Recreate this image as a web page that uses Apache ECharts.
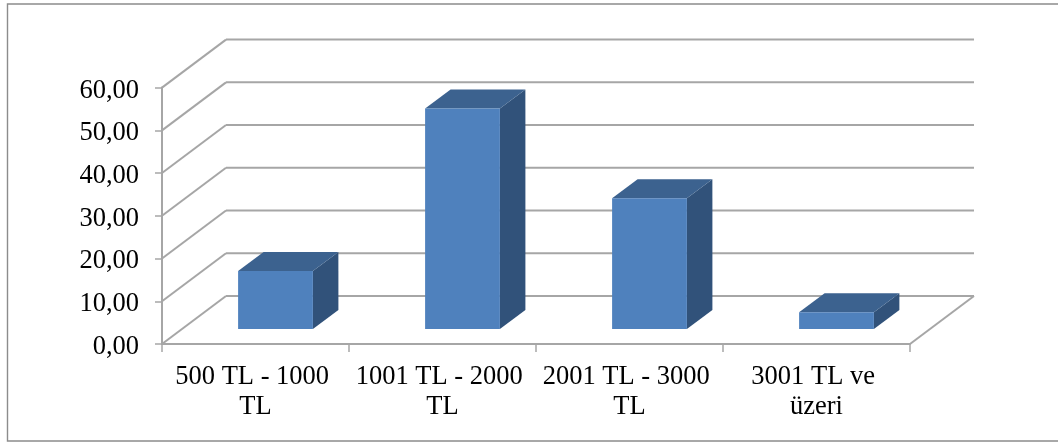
<!DOCTYPE html>
<html><head><meta charset="utf-8">
<style>html,body{margin:0;padding:0;background:#fff}#c{width:1058px;height:442px}</style>
<script src="https://cdn.jsdelivr.net/npm/echarts@6/dist/echarts.min.js"></script>
</head><body><div id="c"></div>
<script>
const categories = ['500 TL - 1000 TL', '1001 TL - 2000 TL', '2001 TL - 3000 TL', '3001 TL ve üzeri'];
const values = [13.6, 51.6, 30.6, 3.9];
const yTicks = [0, 10, 20, 30, 40, 50, 60];

const WALL_DX = 64, WALL_DY = -48;   // depth of the floor / side wall
const BAR_INSET_DX = 20, BAR_INSET_DY = -15; // bar front face offset from the front edge
const BAR_DX = 25.5, BAR_DY = -19;   // depth of a bar
const GRID = '#a6a6a6', FRONT = '#4f81bd', SIDE = '#31527a', TOP = '#3c628f';
const FONT = '"Liberation Serif","Times New Roman",serif';

const chart = echarts.init(document.getElementById('c'), null, {renderer: 'canvas'});
chart.setOption({
  animation: false,
  backgroundColor: '#fff',
  graphic: [{
    type: 'rect', silent: true, z: -10,
    shape: {x: 7.5, y: 4, width: 1100, height: 437},
    style: {fill: '#fff', stroke: '#8c8c8c', lineWidth: 1.4}
  }],
  grid: {left: 162, right: 148, top: 87.6, bottom: 98, containLabel: false},
  xAxis: {
    type: 'category', data: categories,
    axisLine: {show: true, onZero: false, lineStyle: {color: GRID, width: 2}},
    axisTick: {show: true, alignWithLabel: false, length: 8, lineStyle: {color: GRID, width: 1.5}},
    splitLine: {show: false},
    axisLabel: {
      interval: 0, margin: 18, color: '#000', fontFamily: FONT, fontSize: 26.5, lineHeight: 30,
      width: 186, overflow: 'break', align: 'center'
    }
  },
  yAxis: {
    type: 'value', min: 0, max: 60, interval: 10,
    axisLine: {show: true, lineStyle: {color: GRID, width: 2}},
    axisTick: {show: true, length: 7, lineStyle: {color: GRID, width: 1.5}},
    splitLine: {show: false},
    axisLabel: {
      margin: 23, color: '#000', fontFamily: FONT, fontSize: 26.5, verticalAlign: 'top', lineHeight: 6,
      formatter: v => v.toFixed(2).replace('.', ',')
    }
  },
  series: [
    {
      type: 'custom', name: 'walls', coordinateSystem: 'cartesian2d', silent: true, z: 1, clip: false,
      data: yTicks.map(v => [0, v]),
      encode: {x: 0, y: 1},
      renderItem(params, api) {
        const cs = params.coordSys;
        const y = api.coord([0, api.value(1)])[1];
        const x0 = cs.x, x1 = cs.x + cs.width;
        const style = {stroke: GRID, lineWidth: 2, fill: null};
        const children = [
          {type: 'line', shape: {x1: x0, y1: y, x2: x0 + WALL_DX, y2: y + WALL_DY}, style},
          {type: 'line', shape: {x1: x0 + WALL_DX, y1: y + WALL_DY, x2: x1 + WALL_DX, y2: y + WALL_DY}, style}
        ];
        if (api.value(1) === 0) {
          children.push({type: 'line', shape: {x1: x1, y1: y, x2: x1 + WALL_DX, y2: y + WALL_DY}, style});
        }
        return {type: 'group', children};
      }
    },
    {
      type: 'custom', name: 'Oran', coordinateSystem: 'cartesian2d', z: 2, clip: false,
      data: values.map((v, i) => [i, v]),
      encode: {x: 0, y: 1},
      renderItem(params, api) {
        const top = api.coord([api.value(0), api.value(1)]);
        const base = api.coord([api.value(0), 0]);
        const w = api.size([1, 0])[0] * 0.4;
        const l = top[0] - w / 2 + BAR_INSET_DX, r = l + w;
        const t = top[1] + BAR_INSET_DY, b = base[1] + BAR_INSET_DY;
        const poly = (points, fill) => ({type: 'polygon', shape: {points}, style: {fill, stroke: null}});
        return {type: 'group', children: [
          poly([[r, t], [r + BAR_DX, t + BAR_DY], [r + BAR_DX, b + BAR_DY], [r, b]], SIDE),
          poly([[l, t], [l + BAR_DX, t + BAR_DY], [r + BAR_DX, t + BAR_DY], [r, t]], TOP),
          poly([[l, t], [r, t], [r, b], [l, b]], FRONT)
        ]};
      }
    }
  ]
});
</script></body></html>
